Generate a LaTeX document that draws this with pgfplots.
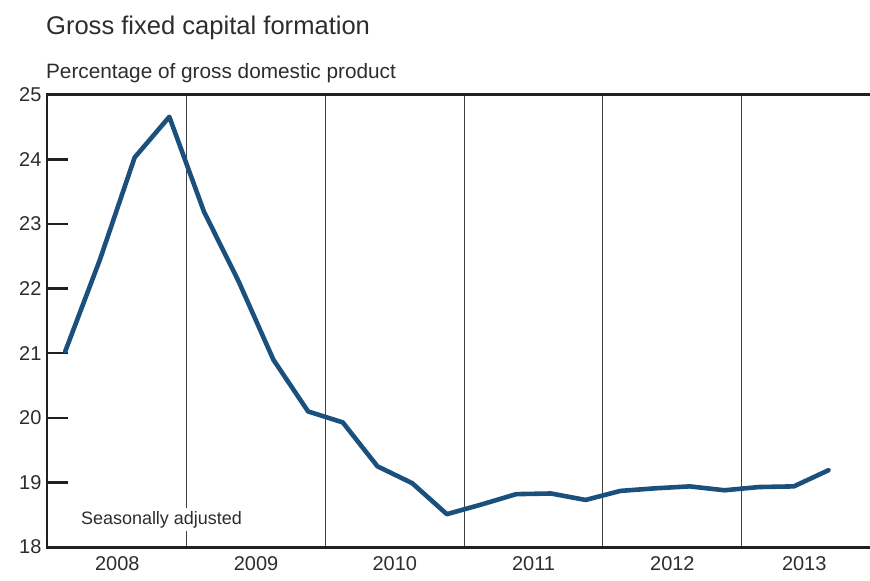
\documentclass[border=0pt]{standalone}
\usepackage{pgfplots}
\pgfplotsset{compat=1.18}
\usepackage{fontspec}
\setmainfont{Liberation Sans}
\definecolor{linecol}{RGB}{28,80,124}
\definecolor{txt}{RGB}{45,45,45}
\definecolor{axcol}{RGB}{35,31,32}
\begin{document}
\begin{tikzpicture}
\begin{axis}[
    at={(0pt,0pt)}, anchor=south west,
    scale only axis,
    width=823pt, height=453pt,
    xmin=2007.993, xmax=2013.914,
    ymin=18, ymax=25,
    axis line style={draw=none},
    /pgf/number format/assume math mode=true,
    ytick={18,19,...,25},
    ytick pos=left,
    tick align=inside,
    major tick length=21pt,
    ytick style={axcol, line width=2.4pt},
    yticklabel style={font=\fontsize{20}{22}\selectfont, text=txt, xshift=-2pt},
    xtick={2009,2010,2011,2012,2013},
    xticklabels={},
    xtick style={draw=none},
    xmajorgrids,
    grid style={black!75, line width=1pt},
    extra x ticks={2008.5,2009.5,2010.5,2011.5,2012.5,2013.45},
    extra x tick labels={2008,2009,2010,2011,2012,2013},
    extra x tick style={grid=none, tick style={draw=none},
        tick label style={font=\fontsize{20}{22}\selectfont, text=txt, yshift=-6pt}},
    clip=false,
]
\addplot[linecol, line width=4.6pt, line join=round, line cap=round] coordinates {
    (2008.125,21.03) (2008.375,22.45) (2008.625,24.03) (2008.875,24.66)
    (2009.125,23.19) (2009.375,22.11) (2009.625,20.90) (2009.875,20.10)
    (2010.125,19.93) (2010.375,19.25) (2010.625,18.99) (2010.875,18.51)
    (2011.125,18.66) (2011.375,18.82) (2011.625,18.83) (2011.875,18.73)
    (2012.125,18.87) (2012.375,18.91) (2012.625,18.94) (2012.875,18.88)
    (2013.125,18.93) (2013.375,18.94) (2013.625,19.19)
};
\draw[axcol, line width=2.8pt, line cap=rect] (rel axis cs:1,1) -- (rel axis cs:0,1)
    -- (rel axis cs:0,0) -- (rel axis cs:1,0);
\end{axis}
\node[anchor=base west, fill=white, inner sep=3pt, text=txt,
      font=\fontsize{18}{20}\selectfont] at (31pt,23pt) {Seasonally adjusted};
\node[anchor=base west, inner sep=0pt, text=txt,
      font=\fontsize{25.6}{28}\selectfont] at (-1pt,513pt) {Gross fixed capital formation};
\node[anchor=base west, inner sep=0pt, text=txt,
      font=\fontsize{20.8}{23}\selectfont] at (-1pt,469pt) {Percentage of gross domestic product};
\path[use as bounding box] (-47pt,-33pt) rectangle (823pt,548pt);
\end{tikzpicture}
\end{document}
